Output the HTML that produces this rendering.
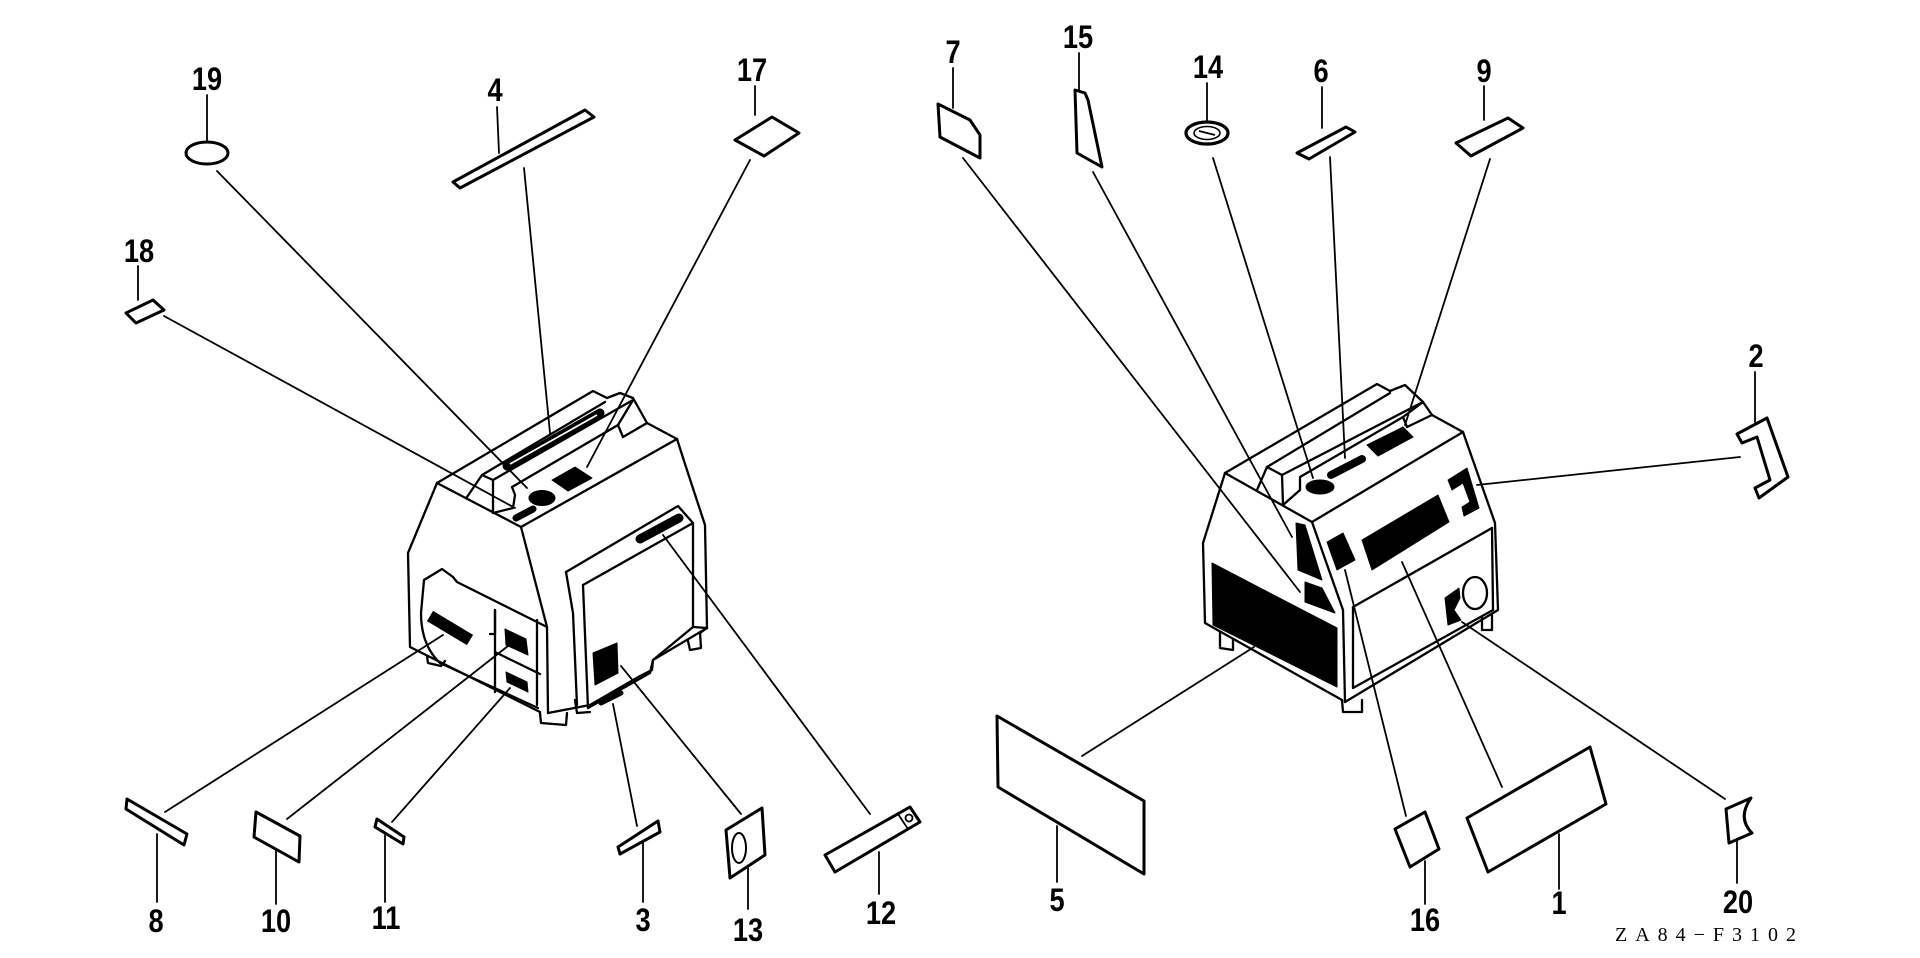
<!DOCTYPE html>
<html><head><meta charset="utf-8"><style>
html,body{margin:0;padding:0;background:#fff;}
svg{display:block;}
.lb{font-family:"Liberation Sans",sans-serif;font-weight:bold;font-size:32px;fill:#000;}
</style></head><body>
<svg width="1920" height="958" viewBox="0 0 1920 958" xmlns="http://www.w3.org/2000/svg">
<rect width="1920" height="958" fill="#fff"/>

<!-- LEFT GENERATOR -->
<g fill="none" stroke="#000" stroke-width="2.3" stroke-linejoin="round" stroke-linecap="round">
  <!-- handle -->
  <polyline points="437,483 593,391 607,398 620,393 633,398 647,423 677,439"/>
  <line x1="482" y1="475" x2="605" y2="402"/>
  <polyline points="467,497 482,475 493,480 493,513"/>
  <line x1="493" y1="480" x2="633" y2="400"/>
  <polyline points="633,400 618,425 623,437 647,423"/>
  <polyline points="493,513 513,508 515,495 512,487 618,425"/>
  <!-- body -->
  <polyline points="437,483 521,527 677,439"/>
  <polyline points="437,483 408,553 410,647 540,712"/>
  <polyline points="427,656 428,663 441,666 445,661"/>
  <polyline points="521,527 547,627 548,713"/>
  <polyline points="677,439 685,464 705,525 707,628 700,633"/>
  <polyline points="700,632 701,648 690,650 688,641"/>
  <polyline points="707,628 653,660 652,670 640,676 590,705 548,713"/>
  <polyline points="540,713 541,723 566,725 567,713"/>
  <polyline points="575,700 577,713 590,712"/>
  <!-- right panel -->
  <polyline points="566,572 678,506 693,523"/>
  <polyline points="566,572 573,613 577,705"/>
  <line x1="583" y1="585" x2="693" y2="523"/>
  <line x1="583" y1="585" x2="588" y2="708"/>
  <polyline points="693,523 693,627 707,628"/>
  <polyline points="588,708 650,673 653,660 693,627"/>
  <!-- left panel -->
  <polyline points="424,580 442,569 453,577 457,582 547,627"/>
  <path d="M424,580 L421,613 Q421,645 440,663 L538,708"/>
  <polyline points="490,634 495,634 495,610"/>
  <line x1="495" y1="610" x2="495" y2="692"/>
  <line x1="495" y1="652" x2="540" y2="674"/>
  <line x1="537" y1="620" x2="537" y2="705"/>
</g>
<!-- left gen black features -->
<g fill="#000" stroke="#000" stroke-linejoin="round">
  <line x1="507" y1="466" x2="600" y2="413" stroke-width="9" stroke-linecap="round"/>
  <line x1="510" y1="464" x2="597" y2="415" stroke="#fff" stroke-width="1.8"/>
  <ellipse cx="542" cy="498" rx="13" ry="7.5"/>
  <line x1="516" y1="518" x2="533" y2="509" stroke-width="7" stroke-linecap="round"/>
  <polygon points="552,480 575,467 592,478 568,491"/>
  <line x1="640" y1="539" x2="679" y2="518" stroke-width="9" stroke-linecap="round"/>
  <polygon points="593,653 617,643 618,673 595,685"/>
  <line x1="601" y1="703" x2="621" y2="693" stroke-width="5" stroke-linecap="round"/>
  <line x1="430" y1="616" x2="470" y2="640" stroke-width="12" stroke-linecap="butt"/>
  <polygon points="505,629 526,639 528,655 506,645"/>
  <polygon points="506,672 527,682 528,692 507,682"/>
</g>

<!-- RIGHT GENERATOR -->
<g fill="none" stroke="#000" stroke-width="2.3" stroke-linejoin="round" stroke-linecap="round">
  <polyline points="1225,473 1377,384 1390,391 1405,385 1423,402 1432,415 1463,432"/>
  <line x1="1267" y1="467" x2="1390" y2="393"/>
  <polyline points="1257,490 1267,467 1282,475 1283,505"/>
  <line x1="1282" y1="475" x2="1423" y2="402"/>
  <polyline points="1423,402 1403,417 1407,427 1432,415"/>
  <polyline points="1283,505 1300,490 1300,477 1403,417"/>
  <polyline points="1225,473 1312,522 1463,432"/>
  <polyline points="1225,473 1203,543 1205,623 1342,700"/>
  <polyline points="1312,522 1343,610 1345,702"/>
  <polyline points="1463,432 1495,523 1498,610 1345,702"/>
  <line x1="1353" y1="607" x2="1492" y2="528"/>
  <line x1="1492" y1="528" x2="1493" y2="610"/>
  <line x1="1353" y1="607" x2="1353" y2="688"/>
  <line x1="1353" y1="688" x2="1493" y2="610"/>
  <polyline points="1220,632 1220,648 1233,650 1233,640"/>
  <polyline points="1342,700 1343,712 1362,712 1362,700"/>
  <polyline points="1482,618 1482,630 1492,630 1492,615"/>
  <ellipse cx="1475" cy="593" rx="12" ry="16"/>
</g>
<g fill="#000" stroke="#000" stroke-linejoin="round">
  <ellipse cx="1320" cy="487" rx="14" ry="7"/>
  <line x1="1331" y1="475" x2="1362" y2="459" stroke-width="8" stroke-linecap="round"/>
  <polygon points="1367,445 1403,427 1413,437 1378,456"/>
  <polygon points="1296,523 1305,525 1322,580 1298,570"/>
  <polygon points="1305,582 1322,588 1335,613 1305,602"/>
  <polygon points="1212,563 1337,628 1337,687 1213,625"/>
  <polygon points="1327,542 1343,533 1355,560 1337,570"/>
  <polygon points="1362,540 1438,495 1449,522 1372,570"/>
  <polygon points="1448,480 1467,468 1479,508 1464,516 1462,507 1470,502 1463,483 1452,490"/>
  <polygon points="1445,598 1459,588 1460,598 1454,610 1461,620 1448,625"/>
</g>

<!-- CONNECTOR LINES -->
<g stroke="#000" stroke-width="1.8" stroke-linecap="round" fill="none">
  <line x1="217" y1="171" x2="527" y2="488"/>
  <line x1="524" y1="168" x2="550" y2="433"/>
  <line x1="750" y1="160" x2="587" y2="467"/>
  <line x1="164" y1="316" x2="515" y2="508"/>
  <line x1="165" y1="812" x2="443" y2="635"/>
  <line x1="287" y1="819" x2="508" y2="646"/>
  <line x1="392" y1="822" x2="510" y2="688"/>
  <line x1="637" y1="826" x2="613" y2="704"/>
  <line x1="741" y1="814" x2="621" y2="666"/>
  <line x1="870" y1="814" x2="663" y2="535"/>
  <line x1="963" y1="158" x2="1300" y2="592"/>
  <line x1="1093" y1="172" x2="1292" y2="537"/>
  <line x1="1213" y1="158" x2="1313" y2="478"/>
  <line x1="1330" y1="157" x2="1345" y2="458"/>
  <line x1="1490" y1="159" x2="1405" y2="425"/>
  <line x1="1740" y1="457" x2="1477" y2="485"/>
  <line x1="1082" y1="756" x2="1254" y2="647"/>
  <line x1="1406" y1="816" x2="1345" y2="570"/>
  <line x1="1502" y1="787" x2="1402" y2="562"/>
  <line x1="1725" y1="799" x2="1462" y2="622"/>
  <!-- leaders -->
  <line x1="207" y1="95" x2="207" y2="142"/>
  <line x1="497" y1="107" x2="499" y2="153"/>
  <line x1="755" y1="86" x2="755" y2="115"/>
  <line x1="138" y1="266" x2="138" y2="300"/>
  <line x1="953" y1="68" x2="953" y2="108"/>
  <line x1="1079" y1="53" x2="1079" y2="90"/>
  <line x1="1207" y1="83" x2="1207" y2="122"/>
  <line x1="1322" y1="87" x2="1322" y2="128"/>
  <line x1="1484" y1="86" x2="1484" y2="120"/>
  <line x1="1755" y1="372" x2="1755" y2="422"/>
  <line x1="157" y1="834" x2="157" y2="902"/>
  <line x1="276" y1="842" x2="276" y2="904"/>
  <line x1="385" y1="834" x2="385" y2="902"/>
  <line x1="643" y1="841" x2="643" y2="902"/>
  <line x1="748" y1="862" x2="748" y2="909"/>
  <line x1="879" y1="852" x2="879" y2="894"/>
  <line x1="1057" y1="826" x2="1057" y2="882"/>
  <line x1="1425" y1="861" x2="1425" y2="904"/>
  <line x1="1559" y1="834" x2="1559" y2="889"/>
  <line x1="1737" y1="838" x2="1737" y2="883"/>
</g>

<!-- PARTS -->
<g fill="#fff" stroke="#000" stroke-width="3" stroke-linejoin="round">
  <ellipse cx="207" cy="153" rx="21" ry="11"/>
  <polygon points="453,182 585,110 594,117 460,188"/>
  <polygon points="735,140 772,117 799,133 764,156"/>
  <polygon points="126,313 153,300 164,310 136,323"/>
  <polygon points="938,104 970,120 980,135 980,158 940,137"/>
  <polygon points="1075,90 1085,93 1088,100 1102,167 1077,153"/>
  <ellipse cx="1207" cy="133" rx="21" ry="11" stroke-width="3.2"/>
  <ellipse cx="1207" cy="133" rx="13" ry="6.5" stroke-width="1.6"/>
  <polygon points="1297,153 1346,127 1355,132 1309,159"/>
  <polygon points="1456,143 1508,118 1523,128 1471,156"/>
  <polygon points="1737,434 1767,418 1788,477 1759,498 1755,488 1770,480 1757,437 1742,443"/>
  <polygon points="127,799 187,834 184,845 126,809"/>
  <polygon points="256,812 300,836 299,862 254,837"/>
  <polygon points="377,819 404,837 403,844 375,827"/>
  <polygon points="618,847 658,821 660,832 620,854"/>
  <polygon points="726,830 762,808 765,855 730,878"/>
  <ellipse cx="739" cy="848" rx="7" ry="15" stroke-width="2"/>
  <polygon points="825,855 910,807 920,822 835,872"/>
  <polygon points="997,716 1144,801 1144,874 998,787"/>
  <polygon points="1395,829 1425,812 1439,849 1410,867"/>
  <polygon points="1467,818 1590,747 1606,804 1488,872"/>
  <path d="M1726,809 L1751,798 Q1737,818 1752,833 L1729,843 Z"/>
</g>
<g stroke="#000" stroke-width="1.8" fill="none">
  <line x1="1199" y1="131" x2="1215" y2="135"/>
  <line x1="898" y1="814" x2="908" y2="829"/>
  <circle cx="909" cy="818" r="3.5"/>
</g>

<!-- LABELS -->
<g class="lb" text-anchor="middle">
  <text transform="translate(207,90) scale(0.85,1)">19</text>
  <text transform="translate(495,101) scale(0.85,1)">4</text>
  <text transform="translate(752,81) scale(0.85,1)">17</text>
  <text transform="translate(139,262) scale(0.85,1)">18</text>
  <text transform="translate(953,63) scale(0.85,1)">7</text>
  <text transform="translate(1078,48) scale(0.85,1)">15</text>
  <text transform="translate(1208,78) scale(0.85,1)">14</text>
  <text transform="translate(1321,82) scale(0.85,1)">6</text>
  <text transform="translate(1484,82) scale(0.85,1)">9</text>
  <text transform="translate(1756,367) scale(0.85,1)">2</text>
  <text transform="translate(156,932) scale(0.85,1)">8</text>
  <text transform="translate(276,932) scale(0.85,1)">10</text>
  <text transform="translate(386,929) scale(0.85,1)">11</text>
  <text transform="translate(643,931) scale(0.85,1)">3</text>
  <text transform="translate(748,941) scale(0.85,1)">13</text>
  <text transform="translate(881,924) scale(0.85,1)">12</text>
  <text transform="translate(1057,911) scale(0.85,1)">5</text>
  <text transform="translate(1425,931) scale(0.85,1)">16</text>
  <text transform="translate(1559,914) scale(0.85,1)">1</text>
  <text transform="translate(1738,913) scale(0.85,1)">20</text>
</g>
<text x="1615" y="941" font-family="Liberation Serif, serif" font-size="20" textLength="181" lengthAdjust="spacing" fill="#000">ZA84−F3102</text>
</svg>
</body></html>
